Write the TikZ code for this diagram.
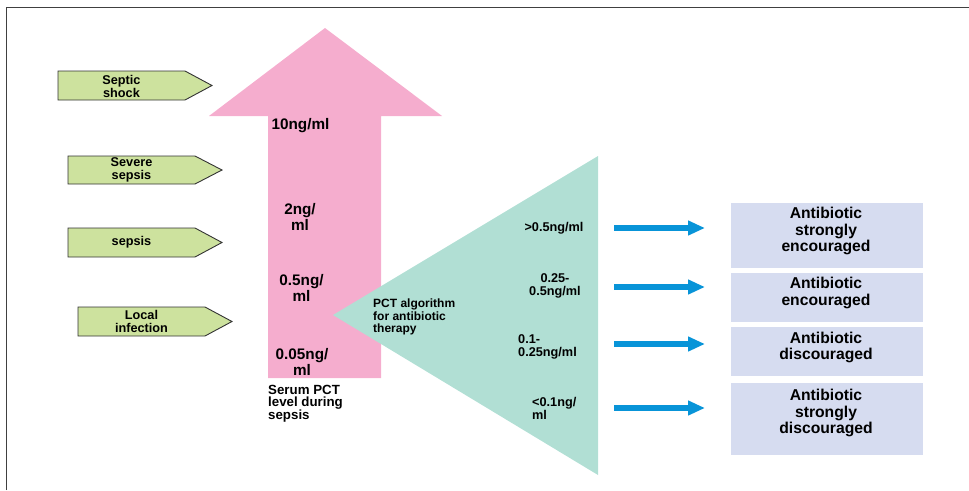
\documentclass[tikz,border=0pt]{standalone}
\usepackage{fontspec}
\setmainfont{Liberation Sans}
\usetikzlibrary{arrows.meta}
\definecolor{pinkc}{HTML}{F5ADCE}
\definecolor{tealc}{HTML}{B1DFD4}
\definecolor{limec}{HTML}{CDE29E}
\definecolor{boxc}{HTML}{D6DCF0}
\definecolor{bluec}{HTML}{0894D8}
\definecolor{framec}{HTML}{404040}
\tikzset{
  pent/.style={draw=black!80, line width=0.9pt, fill=limec},
  penttext/.style={align=center, inner sep=0pt, font=\bfseries\fontsize{12.7}{13}\selectfont},
  pinktext/.style={align=center, inner sep=0pt, font=\bfseries\fontsize{15.3}{14}\selectfont},
  smalltext/.style={inner sep=0pt, font=\bfseries\fontsize{12.7}{13}\selectfont},
  resbox/.style={fill=boxc, draw=none},
  restext/.style={align=center, inner sep=0pt, font=\bfseries\fontsize{15.7}{16.5}\selectfont},
  bluearrow/.style={draw=bluec, line width=6.5pt, -{Triangle[length=17pt, width=14pt]}}
}
\begin{document}
\begin{tikzpicture}[x=1pt, y=-1pt]
\useasboundingbox (0,0) rectangle (969,490);
% frame
\draw[framec, line width=1pt] (6.5,490) -- (6.5,7.5) -- (969,7.5);

% pink arrow
\fill[pinkc] (268,378) -- (268,116) -- (209,116) -- (325,28) -- (442,116) -- (381,116) -- (381,378) -- cycle;

% green pentagons
\draw[pent] (58,71) -- (185,71) -- (212,85.5) -- (185,100) -- (58,100) -- cycle;
\node[penttext] (septic) at (121.5,86) {Septic\\shock};
\draw[pent] (68,156) -- (195,156) -- (222,170) -- (195,184) -- (68,184) -- cycle;
\node[penttext] (severe) at (131.5,170) {Severe\\sepsis};
\draw[pent] (68,228) -- (195,228) -- (222,242.5) -- (195,257) -- (68,257) -- cycle;
\node[penttext] (sepsis) at (131.5,242) {sepsis};
\draw[pent] (78,307) -- (205,307) -- (232,321.5) -- (205,336) -- (78,336) -- cycle;
\node[penttext] (local) at (141.5,321) {Local\\infection};

% pink labels
\node[pinktext] (p10) at (300.5,126) {10ng/ml};
\node[pinktext] (p2) at (300,217) {2ng/\\ml};
\node[pinktext] (p05) at (301.5,288) {0.5ng/\\ml};
\node[pinktext] (p005) at (302,362) {0.05ng/\\ml};
\node[smalltext, align=left, anchor=west, font=\bfseries\fontsize{13.3}{12}\selectfont] (serum) at (268,404) {Serum PCT\\level during\\sepsis};

% teal triangle
\fill[tealc] (333,315) -- (598,156) -- (598,475) -- cycle;
\node[smalltext, align=left, anchor=west, font=\bfseries\fontsize{12}{12.5}\selectfont] (alg) at (373,317) {PCT algorithm\\for antibiotic\\therapy};
\node[smalltext] (t1) at (554,228) {>0.5ng/ml};
\node[smalltext, align=center] (t2) at (555,286) {0.25-\\0.5ng/ml};
\node[smalltext, align=left, anchor=west] (t3) at (518,347) {0.1-\\0.25ng/ml};
\node[smalltext, align=left, anchor=west] (t4) at (532,408) {<0.1ng/\\ml};

% result boxes
\fill[resbox] (731,203) rectangle (923,268);
\node[restext] (r1) at (826,231) {Antibiotic\\strongly\\encouraged};
\fill[resbox] (731,273) rectangle (923,322);
\node[restext] (r2) at (826,293) {Antibiotic\\encouraged};
\fill[resbox] (731,327) rectangle (923,376);
\node[restext] (r3) at (826,347.5) {Antibiotic\\discouraged};
\fill[resbox] (731,383) rectangle (923,455);
\node[restext] (r4) at (826,413) {Antibiotic\\strongly\\discouraged};

% blue arrows
\coordinate (a1s) at (614,228); \coordinate (a1e) at (705,228);
\coordinate (a2s) at (614,287); \coordinate (a2e) at (705,287);
\coordinate (a3s) at (614,344); \coordinate (a3e) at (705,344);
\coordinate (a4s) at (614,408); \coordinate (a4e) at (705,408);
\draw[bluearrow] (a1s) -- (a1e);
\draw[bluearrow] (a2s) -- (a2e);
\draw[bluearrow] (a3s) -- (a3e);
\draw[bluearrow] (a4s) -- (a4e);
\end{tikzpicture}
\end{document}
